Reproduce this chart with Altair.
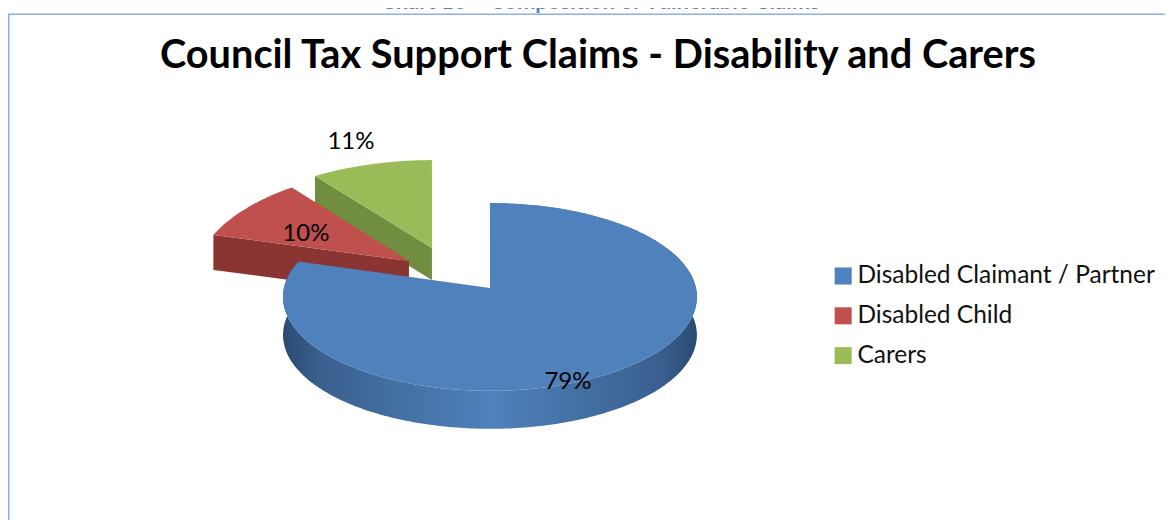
import math
import altair as alt

categories = ["Disabled Claimant / Partner", "Disabled Child", "Carers"]
shares = [79, 10, 11]
colors = ["#4F81BD", "#C0504D", "#9BBB59"]
wall_colors = ["#3F6A9E", "#8B3533", "#718D3F"]
title_text = "Council Tax Support Claims - Disability and Carers"
caption_text = "Chart 16 \u2013 Composition of Vulnerable Claims"

# The page is a little wider than the window and is fitted to it, so drawing sizes are enlarged to compensate.
K = 1181 / 1173
DY = -1.8

# per-slice drawing geometry, in chart pixels (page pixels minus the 8px margin)
apex = {"Disabled Claimant / Partner": (482, 280), "Disabled Child": (401, 253), "Carers": (424, 240)}
radii = {"Disabled Claimant / Partner": (206, 93), "Disabled Child": (212, 110), "Carers": (232, 118)}
depth = {"Disabled Claimant / Partner": 38, "Disabled Child": 35, "Carers": 32}
perspective = {"Disabled Claimant / Partner": 0.0958, "Disabled Child": 0.2, "Carers": 0.343}
# the 3D view skews the blue slice's visible end by a little
view_skew = {"Disabled Claimant / Partner": math.radians(2.6), "Disabled Child": 0, "Carers": 0}
FONT = "Lato"


def arc_points(cat, start, end):
    ax, ay = apex[cat]
    rx, ry = radii[cat]
    a = perspective[cat]
    n = max(4, int(abs(end - start) * 60))
    pts = []
    for i in range(n + 1):
        t = start + (end - start) * i / n
        s = 1 / (1 + a * math.cos(t))
        pts.append((ax + rx * math.sin(t) * s, ay - ry * math.cos(t) * s))
    return pts


def feature(cat, ring):
    ring = [list(p) for p in ring]
    ring.append(ring[0])
    return {"type": "Feature", "properties": {"category": cat},
            "geometry": {"type": "Polygon", "coordinates": [ring]}}


tops, walls = {}, {}
cum = 0
for cat, share in zip(categories, shares):
    start = 2 * math.pi * cum / 100
    end = 2 * math.pi * (cum + share) / 100 + view_skew[cat]
    cum += share
    arc = arc_points(cat, start, end)
    tops[cat] = feature(cat, [apex[cat]] + arc)
    d = depth[cat]
    if cat == categories[0]:
        wall = arc + [(x, y + d) for x, y in reversed(arc)]
    else:
        # the cut face running from the apex to the first end of the slice
        edge = arc[0]
        ax, ay = apex[cat]
        wall = [apex[cat], edge, (edge[0], edge[1] + d), (ax, ay + d)]
    walls[cat] = feature(cat, wall)

projection = dict(type="identity", scale=K, translate=[0, DY])
color_scale = alt.Scale(domain=categories, range=colors)
legend = alt.Legend(
    title=None, orient="none", legendX=823 * K, legendY=254 * K, symbolType="square", symbolSize=290 * K * K,
    symbolStrokeWidth=0, symbolOpacity=1, labelFont=FONT, labelFontSize=24.5 * K, labelColor="#111111",
    rowPadding=14 * K, labelOffset=2 * K, labelLimit=340,
)

blue_gradient = alt.LinearGradient(
    gradient="linear", x1=0, x2=1, y1=0, y2=0,
    stops=[
        alt.GradientStop(color="#2A4A72", offset=0),
        alt.GradientStop(color="#3A5F8F", offset=0.09),
        alt.GradientStop(color="#426E9F", offset=0.25),
        alt.GradientStop(color="#4F81BD", offset=0.5),
        alt.GradientStop(color="#426E9F", offset=0.75),
        alt.GradientStop(color="#3A5F8F", offset=0.91),
        alt.GradientStop(color="#2A4A72", offset=1),
    ],
)


def shape(feat, **mark):
    return alt.Chart(alt.Data(values=[feat])).mark_geoshape(strokeWidth=0, **mark).project(**projection)


def text(label, x, y, size, dy=DY, **mark):
    return alt.Chart(alt.Data(values=[{"label": label}])).mark_text(font=FONT, fontSize=size * K, **mark).encode(
        text="label:N", x=alt.value(x * K), y=alt.value(y * K + dy)
    )


def frame(**channels):
    return alt.Chart(alt.Data(values=[{"a": 0}])).mark_rule(color="#8DB0DD", strokeWidth=1.5).encode(
        **{k: alt.value(v * K) for k, v in channels.items()}
    )


blue, red, green = categories

top_blue = alt.Chart(alt.Data(values=[tops[blue]])).mark_geoshape(
    strokeWidth=0
).encode(
    color=alt.Color("properties.category:N", scale=color_scale, legend=legend)
).project(**projection)

chart = alt.layer(
    frame(x=0.75, y=4.5, y2=514),
    frame(x=0, x2=1165, y=4.5),
    text(caption_text, 592.5, -1, 22, dy=0, fontWeight="bold", color="#4F81BD", align="center", baseline="alphabetic"),
    text(title_text, 590, 60, 39.7, fontWeight="bold", color="#000000", align="center", baseline="alphabetic"),
    shape(walls[green], fill=wall_colors[2]),
    shape(tops[green], fill=colors[2]),
    shape(walls[red], fill=wall_colors[1]),
    shape(tops[red], fill=colors[1]),
    shape(walls[blue], fill=blue_gradient),
    top_blue,
    text(f"{shares[2]}%", 343, 141, 24, align="center", baseline="alphabetic", color="#000000"),
    text(f"{shares[1]}%", 298, 233, 24, align="center", baseline="alphabetic", color="#000000"),
    text(f"{shares[0]}%", 560, 381, 24, align="center", baseline="alphabetic", color="#000000"),
).properties(
    width=1165, height=516, padding=0, autosize=alt.AutoSizeParams(type="none"), background="white"
).configure_view(stroke=None)

chart.save("out.html", embed_options={"renderer": "svg", "actions": False})
